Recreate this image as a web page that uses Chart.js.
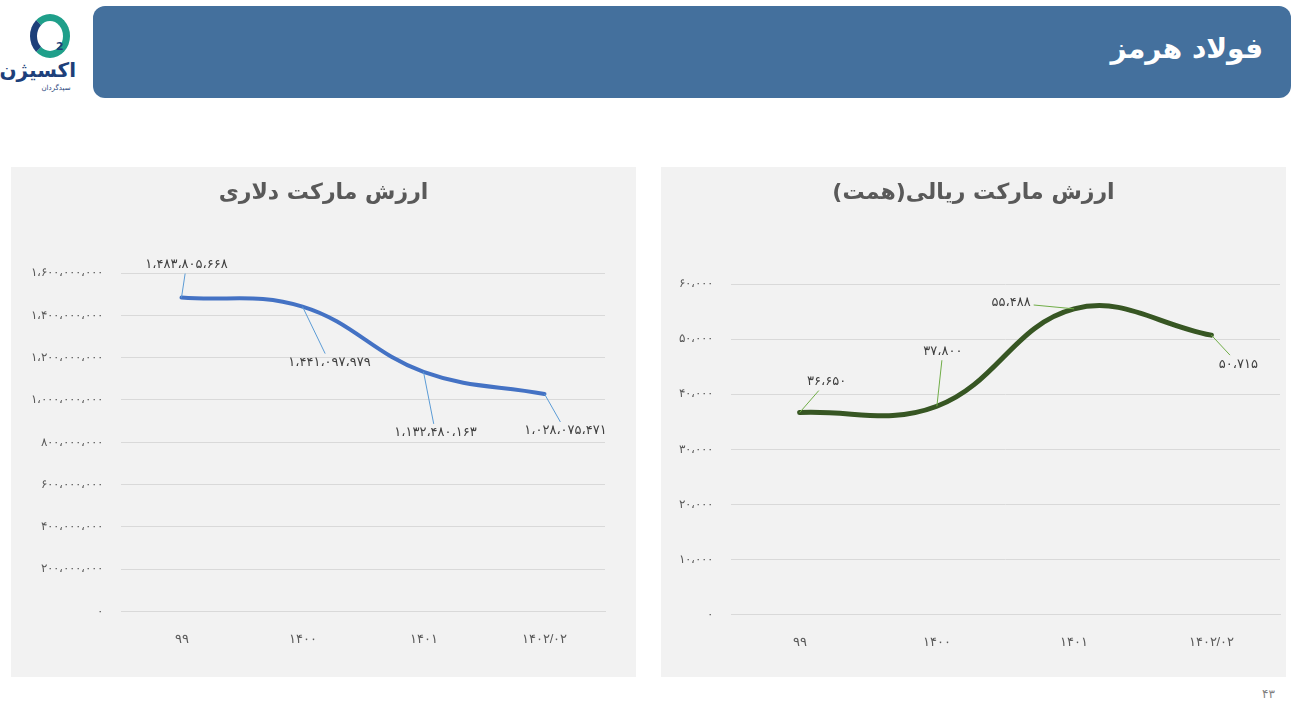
<!DOCTYPE html>
<html>
<head>
<meta charset="utf-8">
<script src="https://cdn.jsdelivr.net/npm/chart.js@4"></script>
<style>
  body { margin: 0; width: 1298px; height: 721px; background: #fff; position: relative; overflow: hidden; font-family: "DejaVu Sans", sans-serif; }
  .banner { position: absolute; left: 93px; top: 6px; width: 1198px; height: 92px; background: #44709d; border-radius: 12px; }
  .banner h1 { position: absolute; right: 28px; top: 26px; margin: 0; color: #fff; font-size: 28px; font-weight: bold; direction: rtl; }
  .panel { position: absolute; top: 167px; width: 625px; height: 510px; background: #f2f2f2; }
  .panel h2 { position: absolute; left: 0; right: 0; top: 12px; margin: 0; text-align: center; color: #595959; font-size: 22px; font-weight: bold; direction: rtl; }
  .panel canvas { position: absolute; left: 0; top: 0; }
  .logo { position: absolute; left: 6px; top: 12px; width: 80px; height: 85px; }
  .page { position: absolute; left: 1262px; top: 687px; color: #7f7f7f; font-size: 12px; }
</style>
</head>
<body>
<div class="logo">
  <div style="position:absolute;left:24px;top:2px;width:26px;height:30px;border:7px solid #1f9f8a;border-radius:50%;border-left-color:#1d3f7a;"></div>
  <div style="position:absolute;left:50px;top:28px;color:#1d3f7a;font-size:11px;font-weight:bold;">2</div>
  <div style="position:absolute;left:2px;top:46px;width:68px;text-align:center;color:#1d3f7a;font-size:20px;font-weight:bold;direction:rtl;">اکسیژن</div>
  <div style="position:absolute;left:30px;top:72px;width:40px;text-align:center;color:#1d3f7a;font-size:7px;direction:rtl;">سپدگردان</div>
</div>
<div class="banner"><h1>فولاد هرمز</h1></div>
<div class="panel" style="left:11px"><canvas id="dollarChart" width="625" height="510"></canvas><h2>ارزش مارکت دلاری</h2></div>
<div class="panel" style="left:661px"><canvas id="rialChart" width="630" height="510"></canvas><h2>ارزش مارکت ریالی(همت)</h2></div>
<div class="page">۴۳</div>
<script>
// Data
const categories = ["۹۹", "۱۴۰۰", "۱۴۰۱", "۱۴۰۲/۰۲"];
const dollarValues = [1483805668, 1441097979, 1132480163, 1028075471];
const rialValues = [36650, 37800, 55488, 50715];
// label offsets from each point (dx, dy)
const dollarLabelOffsets = [[5, -33], [27, 56], [12, 61], [21, 37]];
const rialLabelOffsets = [[27, -31], [6, -55], [-63, -6], [27, 29]];

// Persian digits with Arabic comma
function fa(n) {
    return n.toLocaleString("en-US").replace(/\d/g, d => "۰۱۲۳۴۵۶۷۸۹"[d]).replace(/,/g, "،");
}

const labelPlugin = {
    id: "leaderLabels",
    afterDatasetsDraw(chart, args, opts) {
        const ctx = chart.ctx;
        const meta = chart.getDatasetMeta(0);
        ctx.save();
        ctx.font = "13px 'DejaVu Sans'";
        ctx.textAlign = "center";
        ctx.textBaseline = "middle";
        meta.data.forEach((pt, i) => {
            const [dx, dy] = opts.offsets[i];
            const text = fa(chart.data.datasets[0].data[i]);
            const hw = ctx.measureText(text).width / 2 + 3, hh = 9;
            const lx = pt.x + dx, ly = pt.y + dy;
            // clip leader at label box
            const s = Math.min(Math.abs(dx) > 0 ? hw / Math.abs(dx) : 1, Math.abs(dy) > 0 ? hh / Math.abs(dy) : 1);
            ctx.strokeStyle = opts.leader;
            ctx.lineWidth = 1;
            ctx.beginPath();
            ctx.moveTo(pt.x, pt.y);
            ctx.lineTo(lx - dx * s, ly - dy * s);
            ctx.stroke();
            ctx.fillStyle = "#404040";
            ctx.fillText(text, lx, ly);
        });
        ctx.restore();
    }
};

function makeChart(id, values, color, width, yMax, yStep, padding, offsets, leader) {
    return new Chart(document.getElementById(id), {
        type: "line",
        data: {
            labels: categories,
            datasets: [{
                data: values,
                borderColor: color,
                borderWidth: width,
                tension: 0.4,
                pointRadius: 0,
                borderCapStyle: "round",
                fill: false
            }]
        },
        options: {
            responsive: false,
            animation: false,
            layout: { padding: padding },
            plugins: {
                legend: { display: false },
                tooltip: { enabled: false },
                leaderLabels: { offsets: offsets, leader: leader }
            },
            scales: {
                x: {
                    offset: true,
                    grid: { display: false },
                    border: { color: "#d9d9d9" },
                    ticks: { color: "#595959", font: { size: 13 }, padding: 12 }
                },
                y: {
                    min: 0, max: yMax,
                    ticks: { stepSize: yStep, color: "#595959", font: { size: 12 }, padding: 18, callback: v => fa(v) },
                    grid: { color: "#d9d9d9", drawTicks: false },
                    border: { display: false }
                }
            }
        },
        plugins: [labelPlugin]
    });
}

makeChart("dollarChart", dollarValues, "#4472c4", 4, 1600000000, 200000000,
    { left: 2, right: 31, top: 106, bottom: 18 }, dollarLabelOffsets, "#5b9bd5");
makeChart("rialChart", rialValues, "#375623", 5, 60000, 10000,
    { left: 0, right: 11, top: 117, bottom: 15 }, rialLabelOffsets, "#70ad47");
</script>
</body>
</html>
